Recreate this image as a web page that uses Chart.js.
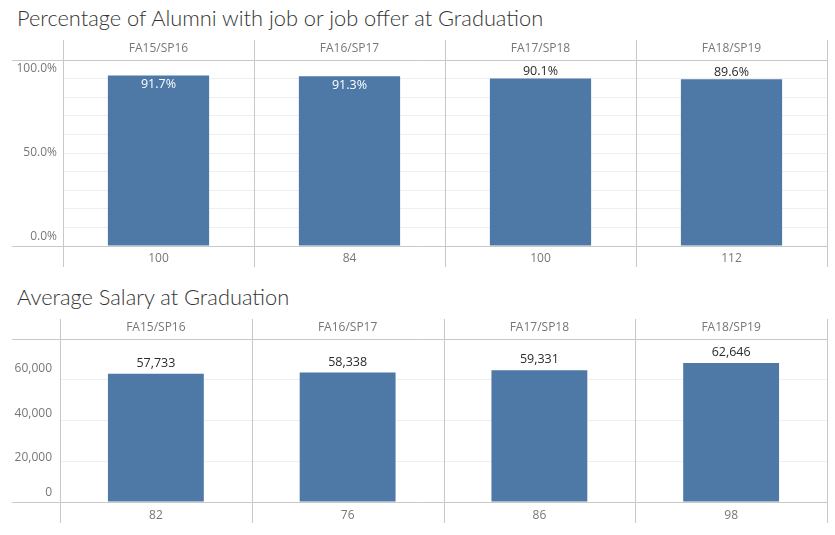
<!DOCTYPE html>
<html>
<head>
<meta charset="utf-8">
<script src="https://cdn.jsdelivr.net/npm/chart.js@4"></script>
<style>
  body { margin: 0; background: #fff; }
  #wrap { position: relative; width: 835px; height: 535px; overflow: hidden; }
  .title { position: absolute; left: 17px; font-family: Lato, sans-serif; font-weight: 300; font-size: 21.8px; color: #333; white-space: nowrap; }
  canvas { position: absolute; left: 0; }
</style>
</head>
<body>
<div id="wrap">
  <div class="title" style="top: 4px;">Percentage of Alumni with job or job offer at Graduation</div>
  <canvas id="rateChart" style="top: 0;"></canvas>
  <div class="title" style="top: 283px;">Average Salary at Graduation</div>
  <canvas id="salaryChart" style="top: 280px;"></canvas>
</div>
<script>
// Data
const categories = ['FA15/SP16', 'FA16/SP17', 'FA17/SP18', 'FA18/SP19'];
const jobRate = [91.7, 91.3, 90.1, 89.6];        // % with job or offer
const jobCounts = ['100', '84', '100', '112'];   // respondents
const salary = [57733, 58338, 59331, 62646];     // average salary
const salaryCounts = ['82', '76', '86', '98'];   // respondents
const rateTicks = [0, 50, 100];
const salaryTicks = [0, 20000, 40000, 60000];

const BLUE = '#4e79a7';
const FRAME = '#c8c8c8';
const GRID = '#efefef';
const FONT = 'Open Sans';

// Draws the Tableau-like frame, y tick labels and bar value labels
const panePlugin = {
    id: 'panes',
    beforeDatasetsDraw(chart, args, opts) {
        const { ctx, chartArea: a, scales } = chart;
        const x = scales.x;
        const half = (x.getPixelForValue(1) - x.getPixelForValue(0)) / 2;
        ctx.save();
        ctx.strokeStyle = FRAME;
        ctx.lineWidth = 1;
        ctx.beginPath();
        // header and baseline rules
        [a.top, a.bottom].forEach(y => {
            ctx.moveTo(12, Math.round(y) + 0.5);
            ctx.lineTo(a.right, Math.round(y) + 0.5);
        });
        // pane separators
        for (let i = 0; i <= categories.length; i++) {
            const px = Math.round(x.getPixelForValue(0) - half + i * half * 2) + 0.5;
            ctx.moveTo(px, a.top - 20);
            ctx.lineTo(px, a.bottom + 21);
        }
        ctx.stroke();

        // y tick labels, kept inside the plot
        const y = scales.y;
        ctx.fillStyle = '#777';
        ctx.font = '12px "' + FONT + '"';
        ctx.textAlign = 'right';
        ctx.textBaseline = 'middle';
        opts.ticks.forEach(v => {
            let py = y.getPixelForValue(v);
            py = Math.min(Math.max(py, a.top + 9), a.bottom - 9);
            ctx.fillText(opts.tickFormat(v), a.left - opts.tickGap, py);
        });
        ctx.restore();
    },
    afterDatasetsDraw(chart, args, opts) {
        const { ctx, chartArea: a } = chart;
        const meta = chart.getDatasetMeta(0);
        const values = chart.data.datasets[0].data;
        ctx.save();
        ctx.font = '12.5px "' + FONT + '"';
        ctx.textAlign = 'center';
        ctx.textBaseline = 'middle';
        meta.data.forEach((bar, i) => {
            const text = opts.valueFormat(values[i]);
            if (bar.y - 17 < a.top) {
                ctx.fillStyle = '#fff';
                ctx.fillText(text, bar.x, bar.y + 9);
            } else {
                ctx.fillStyle = '#2a2a2a';
                ctx.fillText(text, bar.x, bar.y - opts.above);
            }
        });
        ctx.restore();
    }
};

function makeChart(id, values, counts, cfg) {
    const canvas = document.getElementById(id);
    canvas.width = 835;
    canvas.height = cfg.height;
    canvas.style.width = '835px';
    canvas.style.height = cfg.height + 'px';
    return new Chart(canvas.getContext('2d'), {
        type: 'bar',
        data: {
            labels: categories,
            datasets: [{
                data: values,
                backgroundColor: BLUE,
                barPercentage: cfg.barPct,
                categoryPercentage: 1,
                xAxisID: 'x',
                yAxisID: 'y'
            }]
        },
        plugins: [panePlugin],
        options: {
            responsive: false,
            animation: false,
            devicePixelRatio: 1,
            layout: { padding: { top: 40, right: 8, bottom: cfg.padBottom, left: 0 } },
            plugins: {
                legend: { display: false },
                tooltip: { enabled: false },
                panes: {
                    ticks: cfg.ticks,
                    tickFormat: cfg.tickFormat,
                    valueFormat: cfg.valueFormat,
                    tickGap: cfg.tickGap,
                    above: cfg.above
                }
            },
            scales: {
                x: {
                    type: 'category',
                    position: 'top',
                    grid: { display: false, drawTicks: false },
                    border: { display: false },
                    ticks: { color: '#777', font: { family: FONT, size: 12 }, padding: 4, maxRotation: 0 },
                    afterFit(s) { s.height = cfg.headH; }
                },
                x2: {
                    type: 'category',
                    position: 'bottom',
                    labels: counts,
                    grid: { display: false, drawTicks: false },
                    border: { display: false },
                    ticks: { color: '#777', font: { family: FONT, size: 12 }, padding: cfg.countPad, maxRotation: 0 },
                    afterFit(s) { s.height = 21; }
                },
                y: {
                    min: 0,
                    max: cfg.max,
                    border: { display: false },
                    grid: {
                        drawTicks: false,
                        color: c => (c.tick.value === 0 || c.tick.value >= cfg.max) ? 'rgba(0,0,0,0)' : GRID
                    },
                    ticks: { stepSize: cfg.step, display: false },
                    afterFit(s) { s.width = cfg.axisW; }
                }
            }
        }
    });
}

makeChart('rateChart', jobRate, jobCounts, {
    height: 280, padBottom: 13, headH: 20, countPad: 5,
    max: 100, step: 10, barPct: 0.53, axisW: 63, tickGap: 6, above: 7,
    ticks: rateTicks,
    tickFormat: v => v.toFixed(1) + '%',
    valueFormat: v => v.toFixed(1) + '%'
});

makeChart('salaryChart', salary, salaryCounts, {
    height: 255, padBottom: 12, headH: 19, countPad: 6,
    max: 73400, step: 20000, barPct: 0.5, axisW: 60, tickGap: 8, above: 10.5,
    ticks: salaryTicks,
    tickFormat: v => v.toLocaleString('en-US'),
    valueFormat: v => v.toLocaleString('en-US')
});
</script>
</body>
</html>
